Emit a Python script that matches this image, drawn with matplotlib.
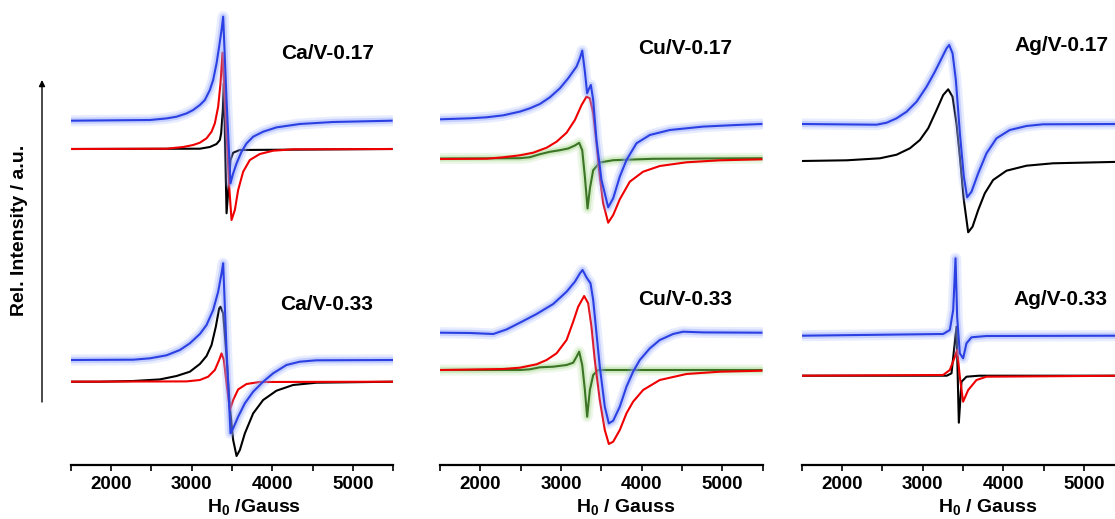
import matplotlib
matplotlib.use("Agg")
from matplotlib import pyplot as plt

plt.rcParams["font.family"] = ["Liberation Sans", "DejaVu Sans"]
plt.rcParams["font.weight"] = "bold"
plt.rcParams["mathtext.fontset"] = "custom"
plt.rcParams["mathtext.rm"] = "Liberation Sans:bold"
plt.rcParams["mathtext.it"] = "Liberation Sans:bold"
plt.rcParams["mathtext.bf"] = "Liberation Sans:bold"

# =============================================================================
# Spectra: field H0 [Gauss] and intensity [a.u.],
# intensities are relative to each trace's own baseline

# Ca/V-0.17
ca17_blue_h = [1500, 2483, 2689, 2813, 2937, 3019, 3102, 3164, 3226, 3267, 3309,
               3341, 3371, 3391, 3433, 3482, 3515, 3557, 3619, 3681, 3763,
               3887, 4052, 4341, 4754, 5480]
ca17_blue_i = [0, 0.7, 2.3, 4, 7.3, 10.7, 15.7, 20.7, 30.7, 40.7, 57.3,
               74, 90.7, 104, 20.7, -62.7, -52.7, -42.7, -31, -22.7, -16,
               -11, -6.7, -3.3, -1.3, 0]
ca17_red_h = [1500, 2689, 2896, 3019, 3102, 3185, 3247, 3288, 3329, 3358, 3383,
              3433, 3466, 3495, 3536, 3577, 3639, 3722, 3846, 4011, 4258, 5480]
ca17_red_i = [0, 0.3, 2, 4, 6.3, 10.7, 17.3, 25.7, 42.3, 65.7, 96.3,
              15.7, -37.7, -71, -61, -41, -22.7, -11, -5, -1.7, -0.3, 0]
ca17_black_h = [1500, 3102, 3226, 3309, 3350, 3366, 3387, 3400, 3433, 3458, 3482,
                3515, 3598, 5480]
ca17_black_i = [0, 0.3, 2, 5, 9, 15.7, 39, 65.7, -64.3, -37.7, -11,
                -3.7, -1, 0]

# Ca/V-0.33
ca33_blue_h = [1500, 2276, 2484, 2689, 2854, 2978, 3102, 3185, 3267, 3329, 3371,
               3391, 3433, 3482, 3515, 3577, 3660, 3763, 3887, 4011, 4176,
               4341, 4547, 5500]
ca33_blue_i = [0, 0.3, 1.7, 4.7, 10, 16.7, 26, 35, 50, 68.3, 86.7,
               96.7, 10, -73.3, -68.3, -56.7, -43.3, -31.7, -21.7, -13.3, -5,
               -1.7, -0.3, 0]
ca33_black_h = [1500, 1864, 2276, 2607, 2813, 2978, 3102, 3185, 3247, 3300, 3341,
                3358, 3391, 3433, 3474, 3515, 3557, 3598, 3660, 3763, 3887,
                4052, 4258, 4547, 5500]
ca33_black_i = [0, 0, 0.7, 2.3, 5.7, 10, 17.7, 25.7, 36.7, 55, 73.3,
                75, 68.3, 25, -25, -58.3, -74.3, -68.3, -51.7, -31.7, -18.3,
                -9, -3.3, -1, 0]
ca33_red_h = [1500, 2937, 3102, 3205, 3288, 3341, 3371, 3400, 3433, 3474, 3515,
              3577, 3681, 3846, 5500]
ca33_red_i = [0, 0.3, 1.7, 5, 11.7, 21.7, 28.3, 21.7, -1.7, -28.3, -18.3,
              -7.7, -2.3, -0.3, 0]

# Cu/V-0.17
cu17_blue_h = [1500, 1872, 2078, 2285, 2491, 2615, 2739, 2863, 2987, 3090, 3193,
               3235, 3264, 3297, 3325, 3350, 3371, 3400, 3441, 3503, 3586,
               3648, 3730, 3813, 3937, 4102, 4350, 4763, 5176, 5486]
cu17_blue_i = [0, 1, 2, 4, 7.7, 11, 15.3, 22, 31, 41, 52.7,
               61, 68.7, 47.7, 26, 31, 34.3, 19.3, -20.7, -60.7, -88,
               -79, -57.3, -40.7, -24, -15.7, -10.7, -7.3, -5.7, -4.7]
cu17_red_h = [1500, 2078, 2285, 2491, 2656, 2822, 2946, 3070, 3173, 3256, 3317,
              3359, 3400, 3441, 3482, 3524, 3586, 3648, 3730, 3854, 4019,
              4226, 4556, 4969, 5486]
cu17_red_i = [0, 0.3, 1.7, 3.7, 6.3, 11.3, 17.3, 26.3, 39, 54, 62.3,
              60.7, 45.7, 15.7, -17.7, -44.3, -63.7, -56, -40.3, -22.7, -12.7,
              -7, -3.3, -1.3, -0.3]
cu17_green_h = [1500, 2491, 2615, 2739, 2863, 2987, 3090, 3173, 3226, 3264, 3297,
                3330, 3359, 3400, 3482, 3648, 4143, 5486]
cu17_green_i = [0, 0.3, 1.3, 4.3, 6.7, 8.3, 10, 13, 15.7, 8.3, -18.3,
                -50, -30, -11.7, -4, -1.7, -0.3, 0.3]

# Cu/V-0.33
cu33_blue_h = [1500, 1872, 2161, 2326, 2491, 2698, 2904, 3070, 3173, 3235, 3268,
               3317, 3367, 3400, 3441, 3482, 3544, 3594, 3648, 3730, 3813,
               3895, 3978, 4102, 4226, 4391, 4515, 4763, 5486]
cu33_blue_i = [0, -0.3, -1.3, 3.3, 10, 18.7, 28.7, 41, 51, 59.3, 62.7,
               55.3, 49.3, 32.7, -0.7, -34, -74, -90.7, -88, -74, -54,
               -39, -27.3, -15.7, -7.3, -1.3, 1, 0.3, 0]
cu33_red_h = [1500, 2285, 2491, 2698, 2822, 2946, 3070, 3152, 3214, 3288, 3338,
              3379, 3420, 3482, 3544, 3594, 3648, 3730, 3813, 3895, 4019,
              4226, 4556, 4969, 5486]
cu33_red_i = [0, 1, 2.3, 5.7, 10, 16.7, 30, 48.3, 63.3, 74, 66.7,
              43.3, 10, -30, -60, -74, -71.7, -60, -43.3, -31.7, -20,
              -10, -4, -1.7, -0.7]
cu33_green_h = [1500, 2491, 2615, 2739, 2904, 3070, 3152, 3194, 3226, 3264, 3297,
                3325, 3359, 3400, 3462, 5486]
cu33_green_i = [0, 0, 0.7, 2.7, 3.3, 5, 7.3, 13.3, 18.3, 5, -20,
                -46.7, -20, -5, 0, 0]

# Ag/V-0.17
ag17_blue_h = [1500, 2429, 2553, 2677, 2801, 2925, 3049, 3152, 3235, 3297, 3329,
               3371, 3412, 3462, 3511, 3552, 3606, 3689, 3792, 3916, 4081,
               4288, 4494, 5500]
ag17_blue_i = [0, -0.7, 1.3, 5.7, 12.3, 22.3, 37.3, 52.3, 65.7, 75.7, 79,
               70.7, 44, -9.3, -52.7, -73.3, -67.7, -49.3, -29.3, -14.3, -6,
               -2, -0.3, 0]
ag17_black_h = [1500, 2058, 2470, 2677, 2842, 2966, 3069, 3173, 3255, 3317, 3371,
                3420, 3462, 3511, 3565, 3619, 3689, 3771, 3874, 4040, 4288,
                4617, 5500]
ag17_black_i = [0, 0.7, 2.7, 6.3, 12.7, 21, 32.7, 51, 66, 71.7, 64.3,
                37.7, 4.3, -39, -71.3, -65.7, -49, -32.3, -19, -9.7, -4.7,
                -2.3, -0.7]

# Ag/V-0.33
ag33_blue_h = [1500, 3254, 3337, 3379, 3408, 3428, 3461, 3502, 3544, 3606, 3792, 5500]
ag33_blue_i = [0, 1.7, 5.7, 25.7, 77.4, 19, -17.6, -22.6, -7.6, -1.6, -0.3, 0]
ag33_black_h = [1500, 3300, 3358, 3420, 3449, 3482, 3544, 3700, 5500]
ag33_black_i = [0, 0, 2.4, 49, -47, -6, -1, 0, 0]
ag33_red_h = [1500, 3254, 3337, 3400, 3428, 3461, 3502, 3565, 3668, 3792, 5500]
ag33_red_i = [0, 0.7, 5.7, 19, 25.7, -1, -26, -14.3, -4.3, -1, 0]

titles = ["Ca/V-0.17", "Ca/V-0.33", "Cu/V-0.17", "Cu/V-0.33", "Ag/V-0.17", "Ag/V-0.33"]
xlabels = ["H$_0$ /Gauss", "H$_0$ / Gauss", "H$_0$ / Gauss"]
major_ticks = [2000, 3000, 4000, 5000]
minor_ticks = [1500, 2500, 3500, 4500, 5500]

# =============================================================================
W, H = 1115, 519
BLUE, BLUE_GLOW = "#2b40e2", "#8fa3ff"
GREEN, GREEN_GLOW = "#3b7424", "#a6d98c"
RED, BLACK = "#ee0000", "#000000"


def trace(ax, h, i, offset, color, glow=None):
    y = [v + offset for v in i]
    if glow is not None:
        ax.plot(h, y, color=glow, lw=8, alpha=0.2, solid_capstyle="round",
                solid_joinstyle="round")
        ax.plot(h, y, color=glow, lw=4.5, alpha=0.4, solid_capstyle="round",
                solid_joinstyle="round")
    ax.plot(h, y, color=color, lw=1.5, solid_joinstyle="round")


fig = plt.figure(figsize=(W / 100, H / 100), dpi=100)

lefts = [70.7, 440, 801.7]
axes = []
for left in lefts:
    ax = fig.add_axes([left / W, 1 - 465 / H, 322.5 / W, 465 / H])
    ax.set_xlim(1500, 5500)
    ax.set_ylim(0, 465)
    for s in ["top", "right", "left"]:
        ax.spines[s].set_visible(False)
    ax.spines["bottom"].set_linewidth(1.6)
    ax.set_yticks([])
    ax.set_xticks(major_ticks)
    ax.set_xticks(minor_ticks, minor=True)
    ax.tick_params(axis="x", which="both", direction="out", length=4,
                   width=1.2, pad=4, labelsize=13.5)
    for lab in ax.get_xticklabels():
        lab.set_fontweight("bold")
    ax.patch.set_visible(False)
    axes.append(ax)

ax1, ax2, ax3 = axes

# Ca column
trace(ax1, ca17_black_h, ca17_black_i, 316, BLACK)
trace(ax1, ca17_red_h, ca17_red_i, 316, RED)
trace(ax1, ca17_blue_h, ca17_blue_i, 344.3, BLUE, BLUE_GLOW)
trace(ax1, ca33_black_h, ca33_black_i, 83.3, BLACK)
trace(ax1, ca33_red_h, ca33_red_i, 83.3, RED)
trace(ax1, ca33_blue_h, ca33_blue_i, 105, BLUE, BLUE_GLOW)

# Cu column
trace(ax2, cu17_green_h, cu17_green_i, 306.5, GREEN, GREEN_GLOW)
trace(ax2, cu17_red_h, cu17_red_i, 306, RED)
trace(ax2, cu17_blue_h, cu17_blue_i, 345.7, BLUE, BLUE_GLOW)
trace(ax2, cu33_green_h, cu33_green_i, 95, GREEN, GREEN_GLOW)
trace(ax2, cu33_red_h, cu33_red_i, 95, RED)
trace(ax2, cu33_blue_h, cu33_blue_i, 132.3, BLUE, BLUE_GLOW)

# Ag column
trace(ax3, ag17_black_h, ag17_black_i, 304, BLACK)
trace(ax3, ag17_blue_h, ag17_blue_i, 341, BLUE, BLUE_GLOW)
trace(ax3, ag33_black_h, ag33_black_i, 89.3, BLACK)
trace(ax3, ag33_red_h, ag33_red_i, 89.3, RED)
trace(ax3, ag33_blue_h, ag33_blue_i, 129.3, BLUE, BLUE_GLOW)

# panel titles (pixel positions of text baselines)
title_pos = [(328, 59.3), (327, 310), (685, 54), (685, 305), (1061, 50.7), (1060, 305)]
for t, (px, py) in zip(titles, title_pos):
    fig.text(px / W, 1 - py / H, t, ha="center", va="baseline",
             fontsize=15, fontweight="bold")

# x labels
xlabel_pos = [254, 626, 988]
for t, px in zip(xlabels, xlabel_pos):
    fig.text(px / W, 1 - 512 / H, t, ha="center", va="baseline",
             fontsize=14, fontweight="bold")

# y label and arrow
fig.text(20 / W, 1 - 230 / H, "Rel. Intensity / a.u.", rotation=90,
         ha="center", va="center", fontsize=14, fontweight="bold")
ax1.annotate("", xy=(42, H - 80), xytext=(42, H - 402),
             xycoords="figure pixels", textcoords="figure pixels",
             arrowprops=dict(arrowstyle="-|>", lw=1.0, color="black",
                             mutation_scale=9, shrinkA=0, shrinkB=0))

fig.savefig("out.png", dpi=100)
